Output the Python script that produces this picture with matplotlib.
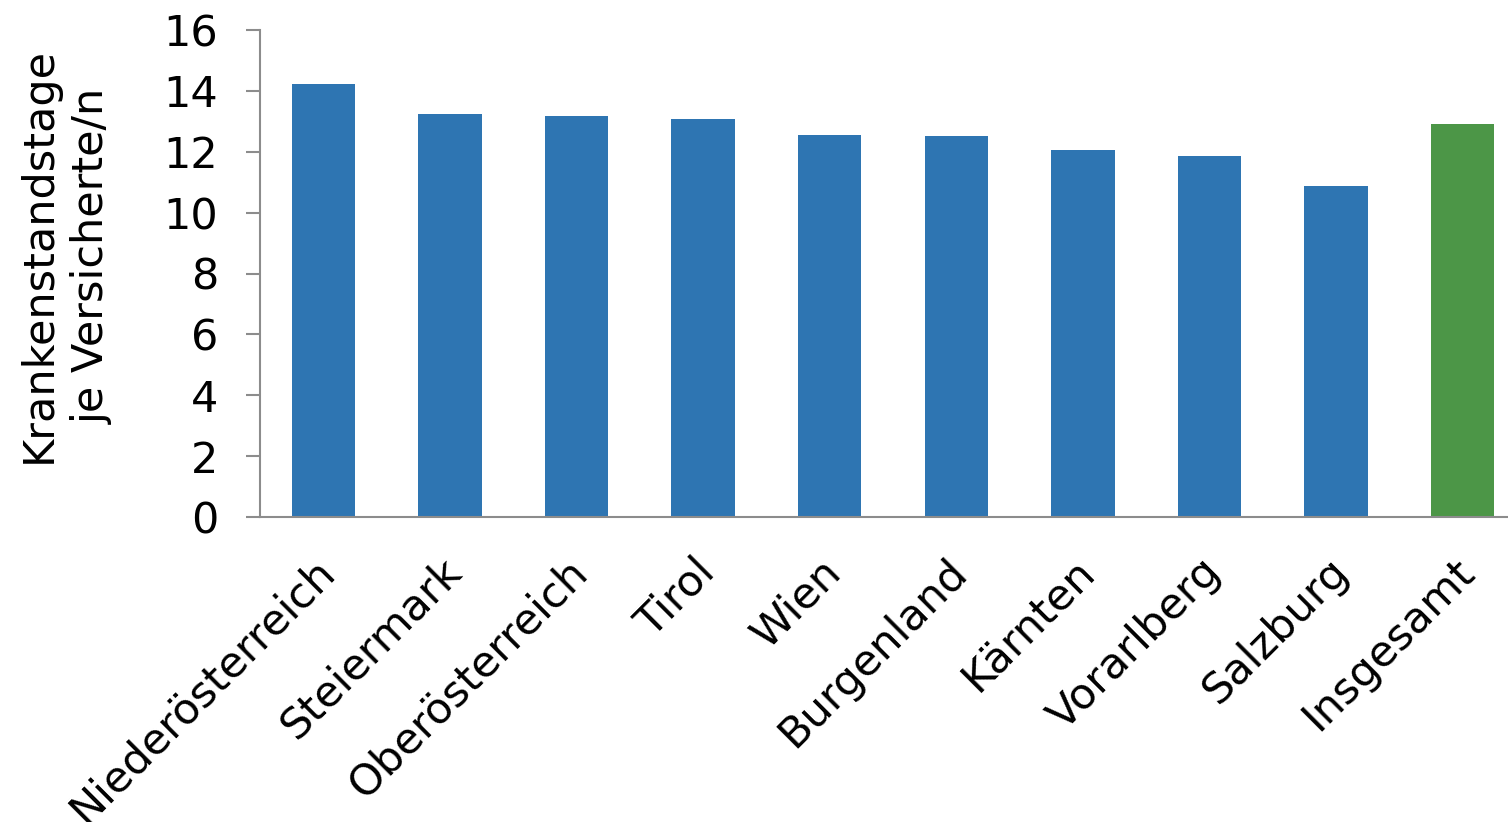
import numpy as np
import matplotlib.transforms as mtransforms
from matplotlib import pyplot as plt

# Krankenstandstage je Versicherte/n nach Bundesland
laender = ["Niederösterreich", "Steiermark", "Oberösterreich", "Tirol", "Wien",
           "Burgenland", "Kärnten", "Vorarlberg", "Salzburg", "Insgesamt"]
tage = [14.22, 13.25, 13.17, 13.07, 12.56, 12.52, 12.06, 11.85, 10.87, 12.91]
farben = ["#2e75b2"] * 9 + ["#4c9647"]

plt.rcParams['font.family'] = ['DejaVu Sans']

fig = plt.figure(figsize=(15.08, 8.22), dpi=100)
# Achse ragt rechts etwas über das Bild hinaus (wie im Original abgeschnitten)
ax = fig.add_axes([260/1508, 1 - 517/822, 1266/1508, 487/822])

x = np.arange(len(laender))
ax.bar(x, tage, width=0.5, color=farben)

ax.set_xlim(-0.5, len(laender) - 0.5)
ax.set_ylim(0, 16)
ax.set_yticks(range(0, 17, 2))
ax.set_xticks(x)
ax.set_xticklabels(laender, rotation=45, ha='right', rotation_mode='anchor', fontsize=31)
ax.tick_params(axis='y', labelsize=31, length=10, width=1.5, color='#8c8c8c', pad=20)
ax.tick_params(axis='x', length=0, pad=24)

# Beschriftungen etwas nach links schieben
versatz = mtransforms.ScaledTranslation(-10/100, 0, fig.dpi_scale_trans)
for lbl in ax.get_xticklabels():
    lbl.set_transform(lbl.get_transform() + versatz)

for s in ['top', 'right']:
    ax.spines[s].set_visible(False)
for s in ['left', 'bottom']:
    ax.spines[s].set_color('#8c8c8c')
    ax.spines[s].set_linewidth(1.5)

ax.set_ylabel("Krankenstandstage\nje Versicherte/n", fontsize=31, linespacing=1.35)
ax.yaxis.set_label_coords(-0.116, 0.537)

fig.savefig("out.png", dpi=100)
